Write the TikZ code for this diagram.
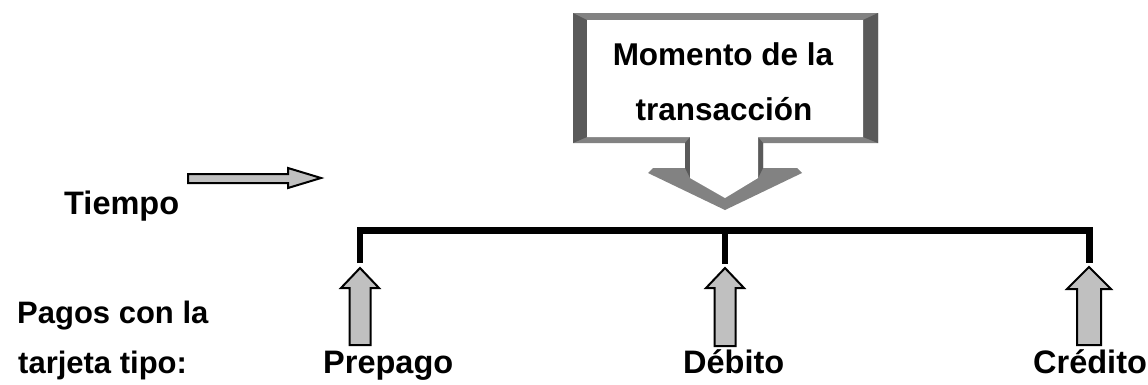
\documentclass[tikz,border=0pt]{standalone}
\usepackage{fontspec}
\setmainfont{Liberation Sans}
\definecolor{bevelmid}{HTML}{828282}
\definecolor{beveldark}{HTML}{5A5A5A}
\definecolor{arrowfill}{HTML}{C0C0C0}
\tikzset{
  lbl/.style={font=\fontsize{32.5}{38}\selectfont\bfseries, inner sep=0pt},
  sidelbl/.style={font=\fontsize{31}{36}\selectfont\bfseries, inner sep=0pt},
  boxlbl/.style={font=\fontsize{31.5}{37}\selectfont\bfseries, inner sep=0pt},
  blockarrow/.style={draw=black, fill=arrowfill, line width=2pt, line join=miter},
  timeline/.style={draw=black, line width=6.5pt, line join=miter},
}
\begin{document}
\begin{tikzpicture}[x=1pt, y=-1pt]
  \fill[white] (0,0) rectangle (1148,384);
  \useasboundingbox (0,0) rectangle (1148,384);

  % --- callout box with a downward pointer (bevelled frame) ---
  \fill[bevelmid] (573,13) -- (878,13) -- (878,143) -- (763,143) -- (763,168)
    -- (797,168) -- (802,173) -- (725,210) -- (648,173) -- (653,168)
    -- (685,168) -- (685,143) -- (573,143) -- cycle;
  \fill[beveldark] (573,13) -- (587,20) -- (587,137) -- (573,143) -- cycle;
  \fill[beveldark] (878,13) -- (863,20) -- (863,137) -- (878,143) -- cycle;
  \fill[beveldark] (685,143) -- (690,137) -- (690,178) -- (685,168) -- cycle;
  \fill[beveldark] (763,143) -- (758,137) -- (758,178) -- (763,168) -- cycle;
  \fill[white] (587,20) -- (863,20) -- (863,137) -- (758,137) -- (758,178)
    -- (725,198) -- (690,178) -- (690,137) -- (587,137) -- cycle;
  \node[boxlbl, anchor=base] (mom1) at (723,65) {Momento de la};
  \node[boxlbl, anchor=base] (mom2) at (724,120) {transacción};

  % --- time direction arrow ---
  \node[lbl, anchor=base west] (tiempo) at (64,214) {Tiempo};
  \coordinate (ttip) at (321,178);
  \draw[blockarrow] (ttip) -- (288,168) -- (288,174) -- (188,174) -- (188,183)
    -- (288,183) -- (288,188) -- cycle;

  % --- time line ---
  \coordinate (cL) at (360,230.5);
  \coordinate (cM) at (725,230.5);
  \coordinate (cR) at (1089.5,230.5);
  \coordinate (pL) at (360,263);
  \coordinate (pM) at (725,264);
  \coordinate (pR) at (1089.5,263);
  \draw[timeline] (pL) -- (cL) -- (cR) -- (pR);
  \draw[timeline] (cM) -- (pM);

  % --- card type arrows ---
  \coordinate (tipA) at (360,268);
  \coordinate (tipB) at (725,268);
  \coordinate (tipC) at (1089,267);
  \draw[blockarrow] (tipA) -- ++(19,20) -- ++(-8.5,0) -- ++(0,57) -- ++(-21,0)
    -- ++(0,-57) -- ++(-8.5,0) -- cycle;
  \draw[blockarrow] (tipB) -- ++(19,20) -- ++(-8.5,0) -- ++(0,58) -- ++(-21,0)
    -- ++(0,-58) -- ++(-8.5,0) -- cycle;
  \draw[blockarrow] (tipC) -- ++(22,22) -- ++(-10,0) -- ++(0,56) -- ++(-24,0)
    -- ++(0,-56) -- ++(-10,0) -- cycle;

  % --- labels ---
  \node[sidelbl, anchor=base west] (pagos) at (17,323) {Pagos con la};
  \node[sidelbl, anchor=base west] (tipo) at (18,373) {tarjeta tipo:};
  \node[lbl, anchor=base west] (prepago) at (323,373) {Prepago};
  \node[lbl, anchor=base west] (debito) at (683,373) {Débito};
  \node[lbl, anchor=base west] (credito) at (1033,373) {Crédito};
\end{tikzpicture}
\end{document}
